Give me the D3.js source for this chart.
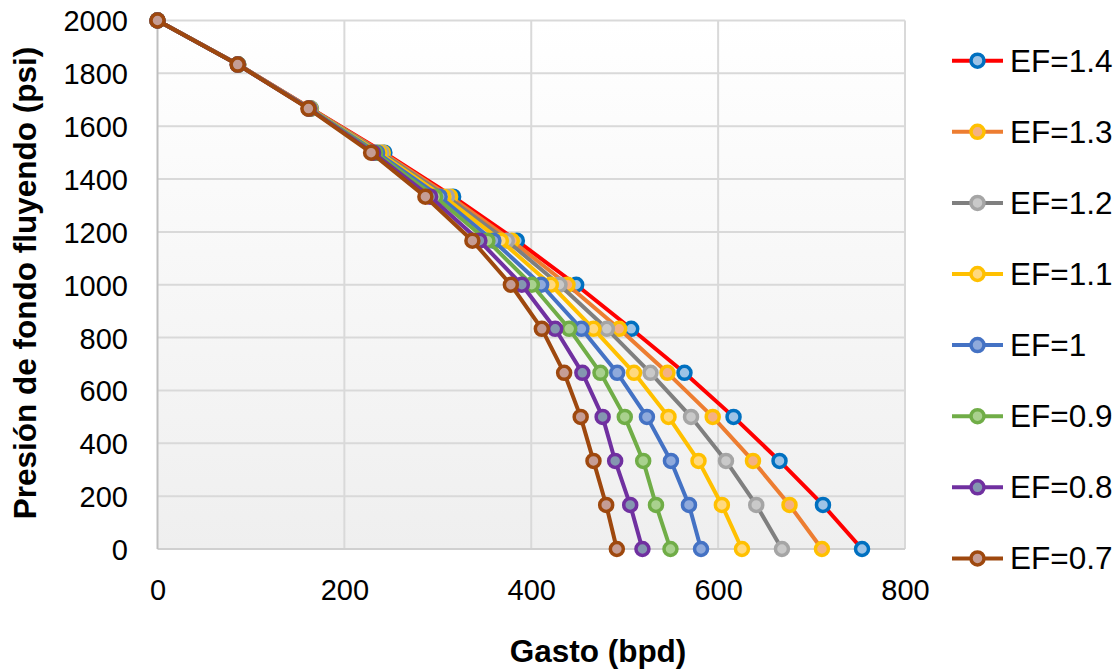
<!DOCTYPE html>
<html>
<head>
<meta charset="utf-8">
<script src="https://cdn.jsdelivr.net/npm/d3@7"></script>
<style>
  html, body { margin: 0; padding: 0; background: #ffffff; }
  svg { display: block; }
  text { font-family: "Liberation Sans", Arial, sans-serif; fill: #000; }
</style>
</head>
<body>
<svg id="chart" width="1119" height="669"></svg>
<script>
// ---- Data ----
const pressures = [2000, 1833.3, 1666.7, 1500, 1333.3, 1166.7, 1000, 833.3, 666.7, 500, 333.3, 166.7, 0];
const seriesNames = ["EF=1.4", "EF=1.3", "EF=1.2", "EF=1.1", "EF=1", "EF=0.9", "EF=0.8", "EF=0.7"];
const qEF14 = [0, 86.5, 164.2, 242.8, 316.4, 384.6, 448.1, 507.0, 564.0, 616.5, 665.7, 712.2, 754.0];
const qEF13 = [0, 86.4, 163.8, 241.1, 313.2, 379.2, 438.8, 494.1, 545.8, 594.2, 637.3, 676.4, 711.1];
const qEF12 = [0, 86.3, 163.4, 239.3, 309.7, 373.9, 430.2, 480.9, 527.6, 571.0, 608.4, 640.8, 668.3];
const qEF11 = [0, 86.2, 163.0, 237.2, 306.0, 367.5, 421.0, 466.6, 510.0, 546.9, 579.0, 604.0, 625.5];
const qEF10 = [0, 86.1, 162.7, 235.0, 302.0, 359.5, 410.6, 453.7, 492.0, 523.8, 549.5, 568.8, 581.7];
const qEF09 = [0, 86.0, 162.3, 232.9, 297.1, 353.1, 400.6, 440.6, 474.1, 500.1, 519.8, 533.5, 549.0];
const qEF08 = [0, 85.9, 162.0, 230.7, 291.8, 344.5, 389.9, 425.6, 454.7, 476.4, 489.8, 505.9, 519.0];
const qEF07 = [0, 85.8, 161.5, 228.6, 286.7, 337.0, 378.2, 411.3, 435.2, 452.9, 466.6, 480.2, 491.6];
const seriesValues = [qEF14, qEF13, qEF12, qEF11, qEF10, qEF09, qEF08, qEF07];
const xTicks = [0, 200, 400, 600, 800];
const yTicks = [0, 200, 400, 600, 800, 1000, 1200, 1400, 1600, 1800, 2000];
const xTitle = "Gasto (bpd)";
const yTitle = "Presión de fondo fluyendo (psi)";

// ---- Styles ----
const lineColors   = ["#FF0000", "#ED7D31", "#7F7F7F", "#FFC000", "#4472C4", "#70AD47", "#7030A0", "#9E480E"];
const markerStroke = ["#0070C0", "#FFC000", "#A5A5A5", "#FFC000", "#4472C4", "#70AD47", "#7030A0", "#9E480E"];
const markerFill   = ["#9DC3E6", "#F4B183", "#C9C9C9", "#FFD97F", "#8FAADC", "#A9D18E", "#8497B0", "#C59D95"];

const svg = d3.select("#chart");
const L = 157.5, R = 905, T = 20.5, B = 549;
const x = d3.scaleLinear().domain([0, 800]).range([L, R]);
const y = d3.scaleLinear().domain([0, 2000]).range([B, T]);

// background gradient
const defs = svg.append("defs");
const grad = defs.append("linearGradient").attr("id", "bg").attr("x1", 0).attr("y1", 0).attr("x2", 0).attr("y2", 1);
grad.append("stop").attr("offset", "0%").attr("stop-color", "#ffffff");
grad.append("stop").attr("offset", "100%").attr("stop-color", "#efefef");

svg.append("rect").attr("x", L).attr("y", T).attr("width", R - L).attr("height", B - T)
  .attr("fill", "url(#bg)");

// gridlines
const grid = svg.append("g");
grid.selectAll("line.h").data(yTicks.filter(d => d > 0)).join("line")
  .attr("x1", L).attr("x2", R).attr("y1", d => y(d)).attr("y2", d => y(d))
  .attr("stroke", "#d9d9d9").attr("stroke-width", 2);
grid.selectAll("line.v").data(xTicks.filter(d => d > 0)).join("line")
  .attr("y1", T).attr("y2", B).attr("x1", d => x(d)).attr("x2", d => x(d))
  .attr("stroke", "#d9d9d9").attr("stroke-width", 2);

// axis lines
svg.append("line").attr("x1", L).attr("x2", R).attr("y1", B).attr("y2", B)
  .attr("stroke", "#d0d0d0").attr("stroke-width", 2);
svg.append("line").attr("x1", L).attr("x2", L).attr("y1", T).attr("y2", B)
  .attr("stroke", "#bfbfbf").attr("stroke-width", 2);

// axes (labels only)
const xAxis = d3.axisBottom(x).tickValues(xTicks).tickSize(0).tickPadding(0).tickFormat(d3.format("d"));
const gx = svg.append("g").attr("transform", `translate(0,${B})`).call(xAxis);
gx.select(".domain").remove();
gx.selectAll("text").attr("font-size", 29).attr("dy", null).attr("y", 51)
  .style("font-family", "'Liberation Sans', Arial, sans-serif").attr("fill", "#000");

const yAxis = d3.axisLeft(y).tickValues(yTicks).tickSize(0).tickPadding(0).tickFormat(d3.format("d"));
const gy = svg.append("g").attr("transform", `translate(128,0)`).call(yAxis);
gy.select(".domain").remove();
gy.selectAll("text").attr("font-size", 29).attr("x", 0).attr("dy", "0.36em")
  .style("font-family", "'Liberation Sans', Arial, sans-serif").attr("fill", "#000");

// titles
svg.append("text").attr("x", 598).attr("y", 662).attr("text-anchor", "middle")
  .attr("font-size", 31.5).attr("font-weight", "bold").text(xTitle);
svg.append("text").attr("transform", "translate(36,283) rotate(-90)").attr("text-anchor", "middle")
  .attr("font-size", 31.5).attr("font-weight", "bold").text(yTitle);

// series
const line = d3.line().x(d => x(d.q)).y(d => y(d.p));
seriesNames.forEach((name, i) => {
  const pts = seriesValues[i].map((q, j) => ({ q, p: pressures[j] }));
  const g = svg.append("g");
  g.append("path").datum(pts).attr("d", line).attr("fill", "none")
    .attr("stroke", lineColors[i]).attr("stroke-width", 4).attr("stroke-linejoin", "round");
  g.selectAll("circle").data(pts).join("circle")
    .attr("cx", d => x(d.q)).attr("cy", d => y(d.p)).attr("r", 6.5)
    .attr("fill", markerFill[i]).attr("stroke", markerStroke[i]).attr("stroke-width", 3.5);
});

// legend
const lg = svg.append("g");
seriesNames.forEach((name, i) => {
  const ly = 60.7 + i * 71.1;
  lg.append("line").attr("x1", 952).attr("x2", 1003).attr("y1", ly).attr("y2", ly)
    .attr("stroke", lineColors[i]).attr("stroke-width", 4);
  lg.append("circle").attr("cx", 977.5).attr("cy", ly).attr("r", 6.5)
    .attr("fill", markerFill[i]).attr("stroke", markerStroke[i]).attr("stroke-width", 3.5);
  lg.append("text").attr("x", 1010).attr("y", ly + 11).attr("font-size", 31.5).text(name);
});
</script>
</body>
</html>
